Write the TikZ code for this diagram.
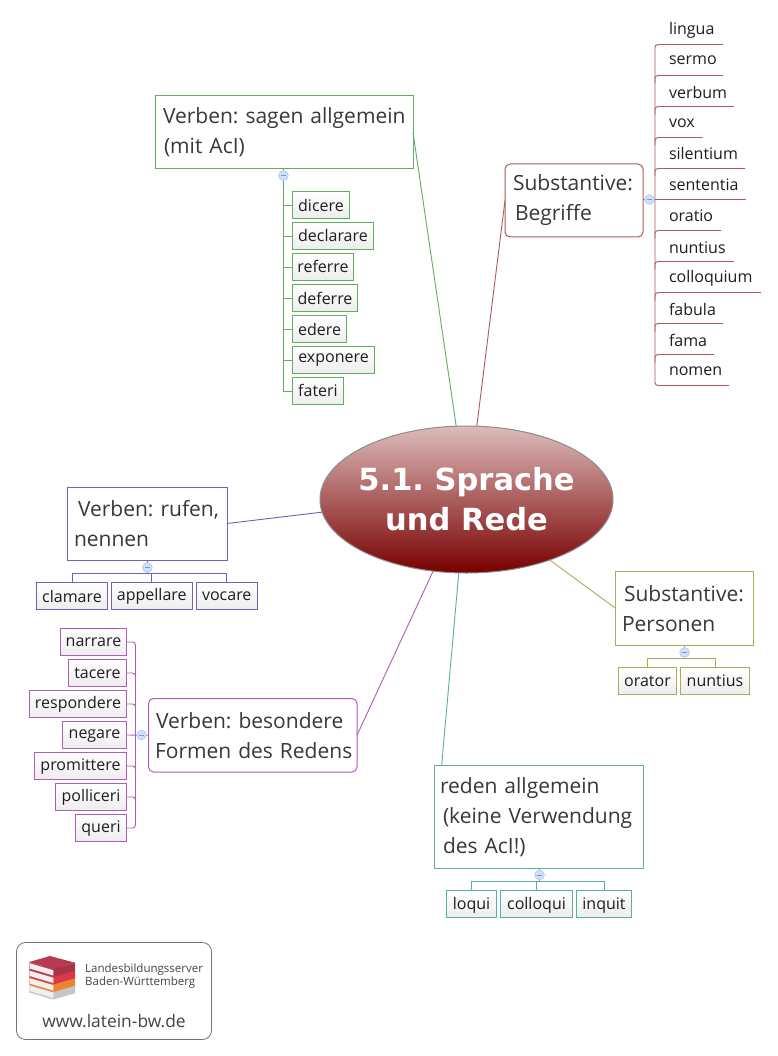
\documentclass[tikz,border=0pt]{standalone}
\usepackage{fontspec}
\usetikzlibrary{shapes.geometric}
\setmainfont{Open Sans}
\newfontfamily\titlefont{DejaVu Sans}
\frenchspacing
\definecolor{cg}{HTML}{5FAE64}
\definecolor{cr}{HTML}{B05A5A}
\definecolor{cb}{HTML}{6A64B8}
\definecolor{co}{HTML}{AEAA5E}
\definecolor{ct}{HTML}{5AAEA8}
\definecolor{cp}{HTML}{B05CB8}
\definecolor{leaftxt}{HTML}{1E1E1E}
\definecolor{boxtxt}{HTML}{383838}
\definecolor{logotxt}{HTML}{444444}
\definecolor{rootT}{HTML}{DDBBBB}
\definecolor{rootB}{HTML}{780000}
\definecolor{togF}{HTML}{CFE0FB}
\definecolor{togD}{HTML}{B4CCF2}
\definecolor{togM}{HTML}{7C98CC}
\definecolor{bkA}{HTML}{B83A50}
\definecolor{bkAd}{HTML}{A93349}
\definecolor{bkB}{HTML}{D93A48}
\definecolor{bkC}{HTML}{EE8230}
\definecolor{bkD}{HTML}{C6C6C6}
\tikzset{
  x=1pt,y=-1pt,
  conn/.style={line width=0.9pt},
  bl/.style={text height=7.5pt+#1pt,text depth=7.5pt-#1pt},
  bigbox/.style={draw,line width=1pt,fill=white,anchor=north west,inner sep=0,outer sep=0,align=left,text=boxtxt,font=\fontsize{21}{30}\selectfont},
  leafbox/.style={draw,line width=1pt,top color=white,bottom color=black!7,anchor=north west,inner sep=0,outer sep=0,minimum height=27pt,text=leaftxt,font=\fontsize{16}{18}\selectfont},
  ulleaf/.style={anchor=south west,inner sep=0,outer sep=0,align=left,minimum height=31pt,text=leaftxt,font=\fontsize{16}{18}\selectfont},
  toggle/.style={circle,draw=togD,fill=togF,line width=0.6pt,minimum size=9.5pt,inner sep=0,outer sep=0,
    path picture={\draw[togM,line width=0.7pt] ([xshift=-2.5pt]path picture bounding box.center) -- ([xshift=2.5pt]path picture bounding box.center);}},
  rootnode/.style={ellipse,minimum width=293pt,minimum height=147pt,inner xsep=-20pt,inner ysep=-5pt,outer sep=0,draw=black!45,line width=1pt,top color=rootT,bottom color=rootB,text=white,align=center,font=\titlefont\bfseries\fontsize{30.5}{40}\selectfont},
  logobox/.style={draw=black!55,line width=0.8pt,rounded corners=9pt,fill=white,anchor=north west,inner sep=0,outer sep=0,minimum width=195pt,minimum height=97pt},
  logotext/.style={inner sep=0,text=logotxt,anchor=west,align=left,font=\fontsize{11.5}{13}\selectfont},
  logourl/.style={inner sep=0,text=logotxt,font=\fontsize{17.4}{18}\selectfont},
}
\newcommand{\bigb}[7]{%
  \pgfmathsetmacro{\bw}{#4-#2}\pgfmathsetmacro{\bh}{#5-#3}%
  \node[bigbox,#6,text width=\bw pt,minimum height=\bh pt] (#1) at (#2,#3) {#7};}
\newcommand{\lf}[7]{%
  \pgfmathsetmacro{\bw}{#3-#2}%
  \node[leafbox,draw=#5,minimum width=\bw pt,bl=#6] (#1) at (#2,#4) {#7};}
\newcommand{\ul}[5]{\node[ulleaf,text width=#3pt,bl=#5] (#1) at (655,#4) {\hspace*{14pt}#2};}
\newcommand{\ind}[1]{\hspace*{#1pt}}
\newcommand{\bookl}[3]{%
  \fill[#2] (29.3,962+#1) -- (50,956+#1) -- (75,962.7+#1) -- (53.3,969+#1) -- cycle;
  \fill[#3] (53.3,969+#1) -- (75,962.7+#1) -- (75,970.7+#1) -- (53.3,977+#1) -- cycle;
  \fill[#2] (29.3,962+#1) -- (53.3,969+#1) -- (53.3,977+#1) -- (29.3,970+#1) -- cycle;
  \fill[black!6] (29.6,963.2+#1) -- (53.3,970.2+#1) -- (53.3,975.5+#1) -- (29.6,968.5+#1) -- cycle;}
\begin{document}
\begin{tikzpicture}
\fill[white] (0,0) rectangle (777,1056);
\useasboundingbox (0,0) rectangle (777,1056);

% root
\node[rootnode] (root) at (466.5,499.5) {5.1. Sprache\\und Rede};

% main boxes
\bigb{bs}{155}{96}{413}{169}{draw=cg}{\ind{8}Verben: sagen allgemein\\\ind{9}(mit AcI)}
\bigb{rs}{505}{164}{643}{237}{draw=cr,rounded corners=5pt}{\ind{8}Substantive:\\\ind{10}Begriffe}
\bigb{bl}{67}{487}{227}{560}{draw=cb}{\ind{11}Verben: rufen,\\\ind{7}nennen}
\bigb{ol}{615.5}{571.5}{753.5}{645}{draw=co}{\ind{8.5}Substantive:\\\ind{6.5}Personen}
\bigb{pu}{148.5}{698.5}{357}{772}{draw=cp,rounded corners=5pt}{\ind{7.5}Verben: besondere\\\ind{6.5}Formen des Redens}
\bigb{te}{434.5}{765}{643.5}{868.5}{draw=ct}{\ind{5.5}reden allgemein\\\ind{8.5}(keine Verwendung\\\ind{8.5}des AcI!)}

% connectors to root
\draw[conn,cg] (root.98.9) -- (bs.east);
\draw[conn,cr] (root.82.6) -- (rs.west);
\draw[conn,cb] (root.185.7) -- (bl.east);
\draw[conn,co] (root.324.3) -- (ol.west);
\draw[conn,cp] (root.245.5) -- (pu.east);
\draw[conn,ct] (root.264.2) -- (te.152.4);

% green leaves
\lf{g1}{292.5}{349.5}{191.5}{cg}{6.5}{dicere}
\lf{g2}{292.5}{373.5}{222.5}{cg}{6}{declarare}
\lf{g3}{292.5}{353.5}{253.5}{cg}{5.5}{referre}
\lf{g4}{292.5}{357.5}{284.5}{cg}{6}{deferre}
\lf{g5}{292.5}{346.5}{315.5}{cg}{6}{edere}
\lf{g6}{292.5}{374.5}{346.5}{cg}{2.5}{exponere}
\lf{g7}{292.5}{343.5}{377.5}{cg}{5.7}{fateri}
\node[toggle] (tg) at (283.5,175.5) {};
\draw[conn,cg] (bs.south -| tg) -- (tg);
\draw[conn,cg] (tg) |- (g7.west);
\foreach \n in {g1,g2,g3,g4,g5,g6} \draw[conn,cg] (tg) |- (\n.west);
\node[toggle] (tg) at (283.5,175.5) {};

% red list
\ul{u1}{lingua}{68}{44.5}{5.3}
\ul{u2}{sermo}{68}{75.5}{5}
\ul{u3}{verbum}{79}{106.5}{7.3}
\ul{u4}{vox}{47.5}{137.5}{5.3}
\ul{u5}{silentium}{90}{168.5}{7}
\ul{u6}{sententia}{91}{199.5}{7}
\ul{u7}{oratio}{66}{230.5}{6.7}
\ul{u8}{nuntius}{79}{261.5}{7.3}
\ul{u9}{colloquium}{106}{292.5}{5.7}
\ul{u10}{fabula}{68}{323.5}{7}
\ul{u11}{fama}{59}{354.5}{7}
\ul{u12}{nomen}{74}{385.5}{5}
\node[toggle] (tr) at (649.5,199.5) {};
\draw[conn,cr] (rs.east |- tr) -- (tr);
\draw[conn,cr] (tr) -- (u6.south west) -- (u6.south east);
\draw[conn,cr,rounded corners=3pt] (u1.south east) -- (u1.south west) -- (u12.south west) -- (u12.south east);
\foreach \n in {u2,u3,u4,u5,u7,u8,u9,u10,u11}
  \draw[conn,cr,rounded corners=3pt] (\n.south east) -- (\n.south west) -- ++(0,8);
\node[toggle] (tr) at (649.5,199.5) {};

% blue leaves
\lf{b1}{36.5}{107.5}{582.5}{cb}{6}{clamare}
\lf{b2}{111.5}{192}{582.5}{cb}{4}{appellare}
\lf{b3}{196}{257.5}{582.5}{cb}{4}{vocare}
\node[toggle] (tb) at (147.5,567.5) {};
\draw[conn,cb] (bl.south -| tb) -- ++(0,13);
\draw[conn,cb] (b1.north) -- ++(0,-9.5) -| (b3.north);
\draw[conn,cb] (b2.north) -- ++(0,-9.5);
\node[toggle] (tb) at (147.5,567.5) {};

% olive leaves
\lf{o1}{618.5}{676.5}{667.5}{co}{5}{orator}
\lf{o2}{680.5}{749.5}{667.5}{co}{5}{nuntius}
\node[toggle] (to) at (684.5,652.5) {};
\draw[conn,co] (ol.south) -- ++(0,13.5);
\draw[conn,co] (o1.north) -- ++(0,-9) -| (o2.north);
\node[toggle] (to) at (684.5,652.5) {};

% teal leaves
\lf{t1}{446.5}{496.5}{890.5}{ct}{5}{loqui}
\lf{t2}{500.5}{572.5}{890.5}{ct}{5}{colloqui}
\lf{t3}{576.5}{631.5}{890.5}{ct}{5}{inquit}
\node[toggle] (tt) at (539.5,875) {};
\draw[conn,ct] (te.south -| tt) -- ++(0,13);
\draw[conn,ct] (t1.north) -- ++(0,-9) -| (t3.north);
\draw[conn,ct] (t2.north) -- ++(0,-9);
\node[toggle] (tt) at (539.5,875) {};

% purple leaves
\lf{p1}{60.5}{126.5}{628.5}{cp}{4}{narrare}
\lf{p2}{68.5}{126.5}{659.5}{cp}{5}{tacere}
\lf{p3}{29.5}{126.5}{690.5}{cp}{4}{respondere}
\lf{p4}{62.5}{126.5}{721.5}{cp}{3}{negare}
\lf{p5}{34.5}{126.5}{752.5}{cp}{4}{promittere}
\lf{p6}{55.5}{126.5}{783.5}{cp}{4.7}{polliceri}
\lf{p7}{75.5}{126.5}{814.5}{cp}{4}{queri}
\node[toggle] (tp) at (141.5,735) {};
\draw[conn,cp] (pu.west) -- (p4.east);
\draw[conn,cp,rounded corners=3pt] (p1.east) -- ++(9,0) -- ++(0,186) -- (p7.east);
\foreach \n in {p2,p3,p5,p6}
  \draw[conn,cp,rounded corners=3pt] (\n.east) -- ++(9,0) -- ++(0,8);
\node[toggle] (tp) at (141.5,735) {};

% logo
\node[logobox] (logo) at (16.5,942.5) {};
\bookl{22.5}{bkD}{bkD}
\bookl{15}{bkC}{bkC}
\bookl{7.5}{bkB}{bkB}
\bookl{0}{bkA}{bkAd}
\node[logotext] (l1) at (85,969.5) {Landesbildungsserver};
\node[logotext] (l2) at (85,983) {Baden-Württemberg};
\node[logourl] (l3) at (114,1021.5) {www.latein-bw.de};
\end{tikzpicture}
\end{document}
